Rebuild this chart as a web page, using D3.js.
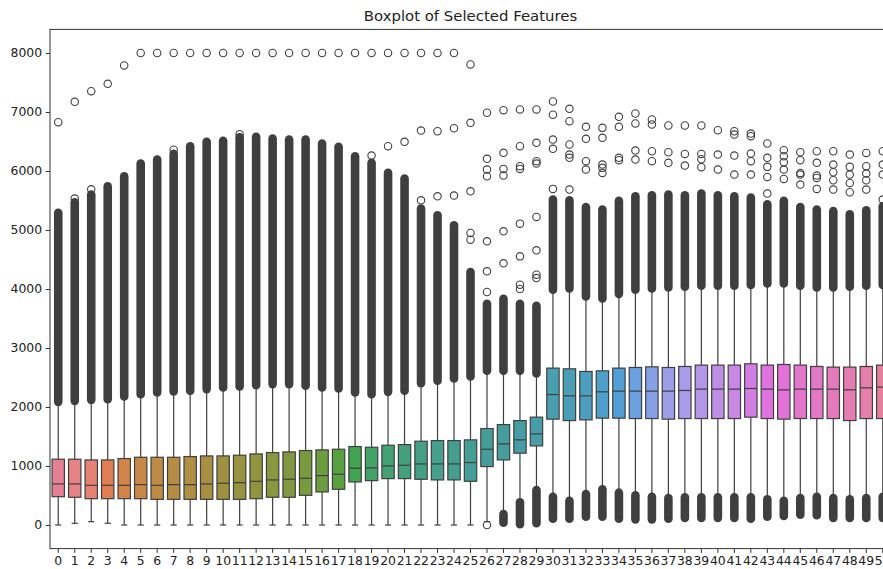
<!DOCTYPE html>
<html>
<head>
<meta charset="utf-8">
<script src="https://cdn.jsdelivr.net/npm/d3@7/dist/d3.min.js"></script>
<style>
  html, body { margin: 0; padding: 0; background: #ffffff; }
  svg { display: block; font-family: "DejaVu Sans", sans-serif; }
</style>
</head>
<body>
<svg id="chart" width="883" height="569"></svg>
<script>
// ---------------- DATA ----------------
const features = ["0","1","2","3","4","5","6","7","8","9","10","11","12","13","14","15","16","17","18","19","20",
  "21","22","23","24","25","26","27","28","29","30","31","32","33","34","35","36","37","38","39","40",
  "41","42","43","44","45","46","47","48","49","50"];

const q1 = [480,470,446,446,446,446,435,435,435,435,435,435,446,470,470,503,560,605,730,752,786,
  786,775,764,764,741,990,1103,1217,1341,1794,1770,1782,1811,1811,1804,1804,1794,1804,1804,1804,
  1804,1828,1804,1794,1804,1804,1804,1770,1804,1804];

const median = [696,696,673,673,673,684,673,684,684,696,707,718,741,764,775,792,837,860,962,967,1001,
  1013,1035,1035,1035,1058,1284,1375,1443,1544,2211,2189,2189,2257,2269,2269,2269,2269,2280,2303,2303,
  2303,2313,2303,2291,2303,2303,2303,2291,2325,2337];

const q3 = [1115,1115,1103,1103,1126,1148,1148,1148,1160,1171,1171,1183,1205,1228,1239,1262,1273,1284,1330,1318,1352,
  1363,1420,1431,1431,1443,1635,1702,1770,1828,2659,2647,2602,2613,2659,2670,2681,2670,2687,2710,2710,
  2710,2732,2710,2721,2710,2687,2676,2676,2687,2710];

const whiskerLow = [0,29,56,29,0,0,0,0,0,0,0,0,0,0,0,0,0,0,0,0,0,
  0,0,0,0,0,55,215,410,620,500,440,550,630,575,530,505,485,495,495,495,
  495,495,465,440,485,505,485,465,485,485];

const whiskerHigh = [2057,2074,2091,2103,2147,2188,2215,2232,2244,2273,2300,2317,2341,2358,2358,2329,2300,2283,2215,2188,2227,
  2244,2375,2414,2453,2487,2583,2583,2583,2538,3958,3980,3844,3810,3885,3958,3980,3997,4009,4026,4026,
  4026,4038,4065,4065,4026,3997,3997,4009,4026,4038];

// dense (overplotted) upper fliers: lowest and highest flier value
const upperFlierLo = [2087,2104,2121,2133,2177,2218,2245,2262,2274,2303,2330,2347,2371,2388,2388,2359,2330,2313,2245,2218,2257,
  2274,2405,2444,2483,2517,2613,2613,2613,2568,3988,4010,3874,3840,3915,3988,4010,4027,4039,4056,4056,
  4056,4068,4095,4095,4056,4027,4027,4039,4056,4068];
const upperFlierHi = [5290,5470,5600,5740,5910,6126,6194,6290,6420,6494,6511,6570,6579,6551,6534,6534,6466,6409,6250,6138,5968,
  5872,5363,5249,5079,4288,3750,3835,3750,3716,5515,5503,5391,5346,5493,5571,5588,5600,5588,5617,5588,
  5571,5549,5435,5493,5391,5346,5323,5266,5334,5402];

// dense lower fliers (null = none)
const lowerFlierLo = [null,null,null,null,null,null,null,null,null,null,null,null,null,null,null,null,null,null,null,null,null,
  null,null,null,null,null,null,40,12,29,107,107,141,141,107,96,96,107,119,119,119,
  119,107,141,153,175,164,119,119,119,119];
const lowerFlierHi = [null,null,null,null,null,null,null,null,null,null,null,null,null,null,null,null,null,null,null,null,null,
  null,null,null,null,null,null,187,385,594,480,412,526,605,548,504,480,458,469,469,469,
  469,469,436,412,458,480,458,436,458,480];

// isolated outliers
const sparseFliers = [
  [6827],[7173,5532],[7353,5690],[7478],[7789],[8000],[8000],[8000,6360],[8000],[8000],[8000],
  [8000,6625],[8000],[8000],[8000],[8000],[8000],[8000],[8000],[8000,6262],[8000,6420],
  [8000,6494],[8000,6686,5503],[8000,6674,5571],[8000,6725,5583],[7806,6817,5656,4950,4836],
  [6987,6206,6024,5911,4808,4299,3949,0],
  [7031,6308,6036,5922,4977,4435],
  [7043,6420,6081,6036,5108,4553,4073,4000],
  [7043,6477,6166,6126,5222,4655,4243,4186],
  [7178,6953,6533,6376,5697],
  [7054,6844,6449,6279,6223,5685],
  [6748,6545,6166,6024],
  [6731,6562,6109,6053,5968],
  [6918,6748,6223,6183],
  [6975,6805,6347,6194],
  [6873,6788,6335,6166],
  [6771,6318,6138],
  [6771,6290,6092],
  [6771,6290,6200,6064],
  [6691,6279,6024],
  [6674,6618,6262,5940],
  [6635,6590,6296,6166,5940],
  [6466,6223,6070,5900,5617],
  [6352,6250,6149,6024,5866],
  [6318,6183,5968,5940,5770],
  [6335,6138,5922,5883,5697],
  [6335,6109,5979,5843,5685],
  [6279,6070,5940,5798,5640],
  [6307,6081,5957,5843,5685],
  [6335,6109,5940,5515]
];

const yTicks = [0,1000,2000,3000,4000,5000,6000,7000,8000];
const titleText = "Boxplot of Selected Features";

// ---------------- HUSL palette (seaborn husl_palette) ----------------
const M = [[3.2406,-1.5372,-0.4986],[-0.9689,1.8758,0.0415],[0.0557,-0.2040,1.0570]];
const refU = 0.19784, refV = 0.46834, kappa = 903.3, eps = 0.008856;
function maxChroma(L, H) {
  const hr = H * Math.PI / 180, sH = Math.sin(hr), cH = Math.cos(hr);
  const sub1 = Math.pow(L + 16, 3) / 1560896;
  const sub2 = sub1 > eps ? sub1 : L / kappa;
  let res = Infinity;
  for (const [m1, m2, m3] of M) {
    const tp = (0.99915 * m1 + 1.05122 * m2 + 1.14460 * m3) * sub2;
    const rb = 0.86330 * m3 - 0.17266 * m2;
    const lb = 0.12949 * m3 - 0.38848 * m1;
    const bt = (rb * sH + lb * cH) * sub2;
    for (const t of [0, 1]) {
      const C = L * (tp - 1.05122 * t) / (bt + 0.17266 * sH * t);
      if (C > 0 && C < res) res = C;
    }
  }
  return res;
}
function huslToRgb(H, S, L) {
  const C = maxChroma(L, H) / 100 * S;
  const hr = H * Math.PI / 180;
  const U = C * Math.cos(hr), V = C * Math.sin(hr);
  const Y = L > 8 ? Math.pow((L + 16) / 116, 3) : L / kappa;
  const vU = U / (13 * L) + refU, vV = V / (13 * L) + refV;
  const X = -(9 * Y * vU) / ((vU - 4) * vV - vU * vV);
  const Z = (9 * Y - 15 * vV * Y - vV * X) / (3 * vV);
  const fl = c => c <= 0.0031308 ? 12.92 * c : 1.055 * Math.pow(c, 1 / 2.4) - 0.055;
  return M.map(r => Math.max(0, Math.min(1, fl(r[0] * X + r[1] * Y + r[2] * Z))));
}
const nCol = features.length;
const baseColors = features.map((f, i) => {
  const h = (((i / nCol) + 0.01) % 1) * 359;
  const [r, g, b] = huslToRgb(h, 0.9 * 99, 0.65 * 99);
  return d3.rgb(r * 255, g * 255, b * 255);
});
const fillColors = baseColors.map(c => { const h = d3.hsl(c); h.s *= 0.75; return h.formatHex(); });
const minLight = d3.min(baseColors, c => (Math.max(c.r, c.g, c.b) + Math.min(c.r, c.g, c.b)) / 2 / 255);
const lum = Math.round(minLight * 0.6 * 255);
const gray = d3.rgb(lum, lum, lum).formatHex();

// ---------------- LAYOUT ----------------
const svg = d3.select("#chart");
svg.append("rect").attr("width", 883).attr("height", 569).attr("fill", "#fff");

const padL = 50, padR = 891, padT = 29.4, padB = 548.6;
const x = d3.scaleBand().domain(features).range([padL, padR]).paddingInner(0).paddingOuter(0);
const y = d3.scaleLinear().domain([-400, 8400]).range([padB, padT]);
const step = x.bandwidth();
const bw = step * 0.75;
const capW = bw * 0.5;
const lw = 1.2;
const fr = 4.3;   // dense flier half-width
const cr = 3.7;   // sparse circle radius

const plot = svg.append("g");

features.forEach((f, i) => {
  const cx = x(f) + step / 2;
  const gg = plot.append("g");
  gg.append("rect")
    .attr("x", cx - bw / 2).attr("width", bw)
    .attr("y", y(q3[i])).attr("height", y(q1[i]) - y(q3[i]))
    .attr("fill", fillColors[i]).attr("stroke", gray).attr("stroke-width", lw);
  gg.append("line").attr("x1", cx).attr("x2", cx).attr("y1", y(q1[i])).attr("y2", y(whiskerLow[i]))
    .attr("stroke", gray).attr("stroke-width", lw);
  gg.append("line").attr("x1", cx).attr("x2", cx).attr("y1", y(q3[i])).attr("y2", y(whiskerHigh[i]))
    .attr("stroke", gray).attr("stroke-width", lw);
  [whiskerLow[i], whiskerHigh[i]].forEach(v => {
    gg.append("line").attr("x1", cx - capW / 2).attr("x2", cx + capW / 2).attr("y1", y(v)).attr("y2", y(v))
      .attr("stroke", gray).attr("stroke-width", lw);
  });
  gg.append("line").attr("x1", cx - bw / 2).attr("x2", cx + bw / 2).attr("y1", y(median[i])).attr("y2", y(median[i]))
    .attr("stroke", gray).attr("stroke-width", lw);
  gg.append("rect")
    .attr("x", cx - fr).attr("width", fr * 2)
    .attr("y", y(upperFlierHi[i]) - fr).attr("height", y(upperFlierLo[i]) - y(upperFlierHi[i]) + 2 * fr)
    .attr("rx", fr).attr("ry", fr).attr("fill", gray);
  if (lowerFlierLo[i] !== null) {
    gg.append("rect")
      .attr("x", cx - fr).attr("width", fr * 2)
      .attr("y", y(lowerFlierHi[i]) - fr).attr("height", y(lowerFlierLo[i]) - y(lowerFlierHi[i]) + 2 * fr)
      .attr("rx", fr).attr("ry", fr).attr("fill", gray);
  }
  sparseFliers[i].forEach(v => {
    gg.append("circle").attr("cx", cx).attr("cy", y(v)).attr("r", cr)
      .attr("fill", "none").attr("stroke", gray).attr("stroke-width", 1.1);
  });
});

// ---------------- AXES ----------------
const tickLen = 4.3, tickPad = 3.6, fs = 12.4;
const yAxis = svg.append("g").attr("transform", `translate(${padL},0)`)
  .call(d3.axisLeft(y).tickValues(yTicks).tickFormat(d3.format("d")).tickSize(tickLen).tickPadding(tickPad));
const xAxis = svg.append("g").attr("transform", `translate(0,${padB})`)
  .call(d3.axisBottom(x).tickSize(tickLen).tickPadding(tickPad));
[yAxis, xAxis].forEach(a => {
  a.select(".domain").remove();
  a.selectAll(".tick line").attr("stroke", "#333").attr("stroke-width", 1);
  a.selectAll(".tick text").attr("fill", "#222").style("font-size", fs + "px").style("font-family", "'DejaVu Sans', sans-serif");
});

svg.append("rect").attr("x", padL).attr("y", padT).attr("width", padR - padL).attr("height", padB - padT)
  .attr("fill", "none").attr("stroke", "#333").attr("stroke-width", 1);

svg.append("text").attr("x", (padL + padR) / 2).attr("y", 21).attr("text-anchor", "middle")
  .style("font-size", "14.9px").attr("fill", "#222").text(titleText);
</script>
</body>
</html>
